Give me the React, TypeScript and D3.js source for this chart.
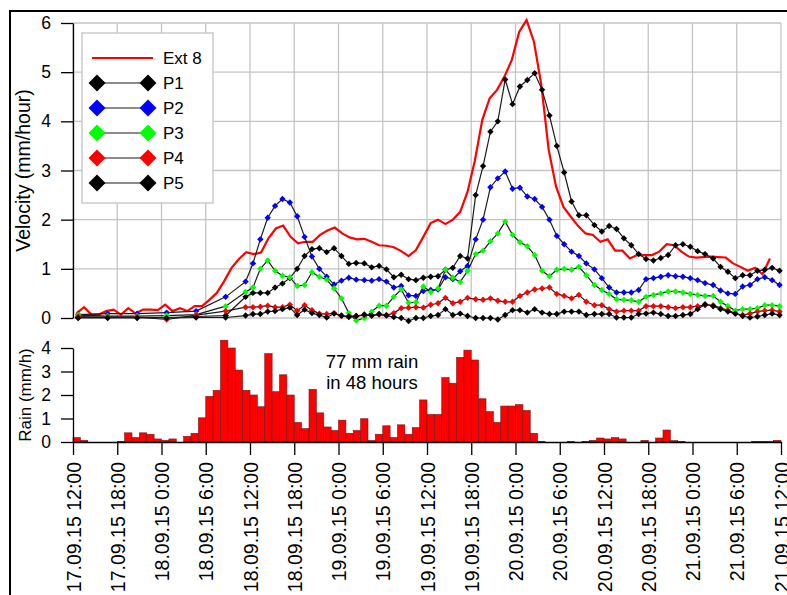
import React, { useRef, useEffect } from 'react';
import * as d3 from 'd3';

// hourly rain (mm/h), first bar starts 17.09.15 12:00
const rain = [
  0.19, 0.07, 0, 0, 0, 0, 0.03, 0.39, 0.19, 0.39,
  0.33, 0.13, 0.07, 0.13, 0, 0.24, 0.37, 1.03, 1.94, 2.2,
  4.33, 4.0, 3.06, 2.2, 2.0, 1.5, 3.76, 2.14, 2.86, 2.0,
  0.83, 0.57, 2.24, 1.24, 0.64, 0.49, 0.93, 0.37, 0.49, 0.99,
  0.07, 0.33, 0.69, 0.19, 0.73, 0.33, 0.61, 1.79, 1.17, 1.17,
  2.74, 2.5, 3.6, 3.91, 3.49, 1.84, 1.29, 0.83, 1.53, 1.53,
  1.59, 1.34, 0.37, 0.03, 0, 0, 0, 0.03, 0, 0.03,
  0.07, 0.17, 0.13, 0.19, 0.13, 0, 0, 0.07, 0, 0.17,
  0.51, 0.06, 0.03, 0, 0, 0, 0, 0, 0, 0,
  0, 0, 0.03, 0.03, 0.03, 0.07,
];

// extensometer Ext 8, logged every hour at half past
const ext8 = [
  0.1, 0.22, 0.07, 0.07, 0.14, 0.17, 0.07, 0.2, 0.09, 0.17,
  0.17, 0.16, 0.27, 0.14, 0.2, 0.14, 0.24, 0.24, 0.37, 0.51,
  0.75, 1.02, 1.2, 1.34, 1.3, 1.33, 1.62, 1.82, 1.88, 1.65,
  1.52, 1.55, 1.55, 1.69, 1.78, 1.84, 1.72, 1.64, 1.6, 1.61,
  1.55, 1.48, 1.47, 1.44, 1.36, 1.26, 1.38, 1.65, 1.93, 2.0,
  1.91, 2.0, 2.16, 2.57, 3.21, 4.03, 4.47, 4.64, 4.91, 5.25,
  5.82, 6.06, 5.62, 4.74, 3.42, 2.67, 2.26, 2.06, 1.87, 1.72,
  1.69, 1.55, 1.6, 1.37, 1.37, 1.21, 1.28, 1.28, 1.28, 1.35,
  1.5, 1.48, 1.35, 1.25, 1.23, 1.24, 1.25, 1.24, 1.23, 1.11,
  1.04, 0.96, 1.02, 0.89, 1.21,
];
const ext8Hours = d3.range(ext8.length).map(k => k + 0.5);

// probe readings, hours after 17.09.15 12:00
const probeHours = [
  0.7, 4.7, 8.7, 12.7, 16.7, 20.7,
  23.4, 24.4, 25.4, 26.4, 27.4, 28.4, 29.4, 30.4, 31.4, 32.4, 33.4, 34.4, 35.4, 36.4, 37.4, 38.4,
  39.5, 40.5, 41.5, 42.5, 43.5, 44.5, 45.5, 46.5, 47.5, 48.5, 49.5, 50.5, 51.5, 52.5, 53.5,
  54.6, 55.6, 56.6, 57.6, 58.6, 59.6, 60.6, 61.6, 62.6, 63.6, 64.6, 65.6, 66.6, 67.6, 68.6, 69.6,
  70.7, 71.7, 72.7, 73.7, 74.7, 75.7, 76.7, 77.7, 78.7, 79.7, 80.7, 81.7, 82.7, 83.7, 84.7, 85.7,
  86.8, 87.8, 88.8, 89.8, 90.8, 91.8, 92.8, 93.8, 94.8, 95.8,
];

const p1 = [
  0.01, 0.01, 0.01, 0.01, 0.03, 0.05,
  0.43, 0.51, 0.51, 0.51, 0.62, 0.7, 0.81, 1.0, 1.26, 1.4, 1.42, 1.34, 1.42, 1.26, 1.1, 1.12, 1.11, 1.03, 1.06, 0.99, 0.83, 0.88,
  0.79, 0.77, 0.82, 0.84, 0.85, 0.98, 1.02, 1.26, 1.21, 2.5, 3.09, 3.79, 4.0, 4.85, 4.35, 4.71, 4.84, 4.98, 4.64, 4.12, 3.5, 2.96,
  2.37, 2.09, 2.09, 1.89, 1.76, 1.87, 1.81, 1.62, 1.48, 1.3, 1.2, 1.17, 1.22, 1.28, 1.48, 1.5, 1.45, 1.36, 1.3, 1.21, 1.04, 0.94, 0.81, 0.87, 0.87, 0.96, 0.98, 1.02, 0.96,
];
const p2 = [
  0.07, 0.09, 0.09, 0.11, 0.14, 0.43,
  0.74, 1.11, 1.6, 2.04, 2.28, 2.42, 2.35, 2.07, 1.65, 1.25, 1.0, 0.84, 0.68, 0.76, 0.82, 0.78, 0.77, 0.76, 0.79, 0.74, 0.62, 0.65,
  0.46, 0.45, 0.55, 0.57, 0.58, 0.83, 0.79, 0.95, 1.06, 1.6, 2.0, 2.66, 2.84, 2.98, 2.63, 2.65, 2.47, 2.42, 2.26, 2.0, 1.67, 1.5,
  1.35, 1.26, 1.11, 0.99, 0.81, 0.62, 0.52, 0.52, 0.52, 0.57, 0.79, 0.81, 0.84, 0.87, 0.85, 0.84, 0.81, 0.77, 0.71, 0.67, 0.56, 0.5, 0.49, 0.64, 0.67, 0.79, 0.83, 0.77, 0.67,
];
const p3 = [
  0.06, 0.04, 0.04, 0.05, 0.07, 0.24,
  0.53, 0.62, 1.0, 1.17, 0.96, 0.86, 0.83, 0.65, 0.67, 0.93, 0.84, 0.78, 0.6, 0.4, 0.1, -0.05, 0.0, 0.13, 0.25, 0.25, 0.43, 0.58,
  0.31, 0.32, 0.64, 0.53, 0.6, 0.98, 0.82, 0.73, 0.96, 1.3, 1.37, 1.56, 1.72, 1.96, 1.69, 1.54, 1.46, 1.28, 0.96, 0.85, 0.98, 1.0,
  0.98, 1.04, 0.87, 0.67, 0.57, 0.49, 0.38, 0.37, 0.36, 0.33, 0.43, 0.47, 0.5, 0.54, 0.54, 0.52, 0.49, 0.47, 0.45, 0.45, 0.33, 0.24, 0.15, 0.18, 0.18, 0.2, 0.26, 0.26, 0.24,
];
const p4 = [
  0.03, 0.02, 0.02, -0.03, 0.06, 0.14,
  0.22, 0.22, 0.23, 0.25, 0.22, 0.22, 0.27, 0.15, 0.26, 0.16, 0.09, 0.08, 0.1, 0.04, 0.04, 0.04, 0.06, 0.05, 0.07, 0.06, 0.1, 0.2,
  0.21, 0.22, 0.21, 0.27, 0.3, 0.41, 0.3, 0.33, 0.41, 0.38, 0.37, 0.4, 0.35, 0.33, 0.33, 0.45, 0.52, 0.58, 0.6, 0.62, 0.49, 0.45,
  0.4, 0.47, 0.33, 0.26, 0.26, 0.18, 0.13, 0.15, 0.15, 0.15, 0.24, 0.24, 0.24, 0.22, 0.2, 0.22, 0.22, 0.24, 0.26, 0.26, 0.2, 0.16, 0.09, 0.06, 0.09, 0.13, 0.15, 0.16, 0.13,
];
const p5 = [
  0, 0, 0, 0, 0.01, 0.01,
  0.05, 0.08, 0.08, 0.13, 0.14, 0.18, 0.21, 0.06, 0.17, 0.1, 0.06, 0.01, 0.09, 0.05, 0.02, 0.04, 0.07, 0.05, 0.08, 0.05, 0.02, 0.0,
  -0.06, 0.0, 0.0, 0.04, 0.06, 0.18, 0.06, 0.09, 0.04, 0.0, 0.0, 0.0, -0.03, 0.06, 0.16, 0.16, 0.11, 0.18, 0.11, 0.08, 0.08, 0.13,
  0.13, 0.13, 0.06, 0.08, 0.08, 0.08, 0.01, 0.01, 0.01, 0.08, 0.09, 0.11, 0.08, 0.04, 0.04, 0.06, 0.08, 0.18, 0.28, 0.24, 0.18, 0.13, 0.09, 0.04, 0.01, 0.03, 0.06, 0.09, 0.06,
];

const probeNames = ['P1', 'P2', 'P3', 'P4', 'P5'];
const probeColors = ['#000000', '#0000ff', '#00ff00', '#ff0000', '#000000'];
const probeValues = [p1, p2, p3, p4, p5];

const velocityTicks = [0, 1, 2, 3, 4, 5, 6];
const rainTicks = [0, 1, 2, 3, 4];
const annotation = ['77 mm rain', 'in 48 hours'];

const t0 = new Date(2015, 8, 17, 12);
const at = (h: number) => new Date(t0.getTime() + h * 3600000);

function App() {
  const svgRef = useRef<SVGSVGElement>(null);

  useEffect(() => {
    const svg = d3.select(svgRef.current);
    svg.selectAll('*').remove();
    svg.attr('font-family', 'Arial, "Liberation Sans", sans-serif');

    const x = d3.scaleTime().domain([t0, at(96)]).range([73, 781]);
    const yV = d3.scaleLinear().domain([0, 6]).range([318, 23]);
    const yR = d3.scaleLinear().domain([0, 4]).range([442, 348]);
    const ticks = x.ticks(d3.timeHour.every(6));
    const fmt = d3.timeFormat('%d.%m.%y %-H:%M');
    const intFmt = d3.format('d');

    // outer frame
    svg.append('rect')
      .attr('x', 10).attr('y', 11).attr('width', 800).attr('height', 620)
      .attr('fill', 'none').attr('stroke', '#000').attr('stroke-width', 2);

    // grid
    const grid = svg.append('g').attr('stroke', '#c4c4c4').attr('stroke-width', 1.3);
    grid.selectAll('line.gv').data(ticks).join('line').attr('class', 'gv')
      .attr('x1', d => x(d)).attr('x2', d => x(d)).attr('y1', yV(0)).attr('y2', yV(6));
    grid.selectAll('line.gh').data(velocityTicks).join('line').attr('class', 'gh')
      .attr('x1', 73).attr('x2', x(at(96))).attr('y1', d => yV(d)).attr('y2', d => yV(d));

    // velocity axis
    const ay = svg.append('g').attr('transform', 'translate(73,0)')
      .call(d3.axisLeft(yV).tickValues(velocityTicks).tickFormat(d => intFmt(d as number))
        .tickSize(12).tickSizeOuter(0).tickPadding(10));
    ay.selectAll('text').attr('font-size', 17.5).attr('font-family', null).attr('fill', '#000');
    ay.selectAll('line,path').attr('stroke', '#000').attr('stroke-width', 1.3);

    // Ext 8
    const line = d3.line<[number, number]>()
      .x(d => x(at(d[0])))
      .y(d => yV(d[1]));
    svg.append('path')
      .attr('d', line(ext8.map((v, i) => [ext8Hours[i], v] as [number, number])))
      .attr('fill', 'none').attr('stroke', '#ff0000').attr('stroke-width', 2.2);

    // probes
    const diamond = (r: number) => d3.symbol(d3.symbolDiamond2, Math.pow(r / 0.62625, 2))();
    probeValues.forEach((vals, k) => {
      const pts = vals.map((v, i) => [probeHours[i], v] as [number, number]);
      const g = svg.append('g');
      g.append('path').attr('d', line(pts))
        .attr('fill', 'none').attr('stroke', '#1a1a1a').attr('stroke-width', 1.2);
      g.selectAll('path.m').data(pts).join('path').attr('class', 'm')
        .attr('d', diamond(3.2))
        .attr('transform', d => `translate(${x(at(d[0]))},${yV(d[1])})`)
        .attr('fill', probeColors[k]);
    });

    // legend
    const lg = svg.append('g');
    lg.append('rect').attr('x', 82).attr('y', 33).attr('width', 131).attr('height', 170)
      .attr('fill', '#fff').attr('stroke', '#c4c4c4').attr('stroke-width', 1.3);
    const rows = ['Ext 8', ...probeNames];
    rows.forEach((name, i) => {
      const y = 58 + i * 25;
      if (i === 0) {
        lg.append('line').attr('x1', 92).attr('x2', 153).attr('y1', y).attr('y2', y)
          .attr('stroke', '#ff0000').attr('stroke-width', 2.2);
      } else {
        lg.append('line').attr('x1', 97).attr('x2', 148).attr('y1', y).attr('y2', y)
          .attr('stroke', '#1a1a1a').attr('stroke-width', 1.2);
        [97, 148].forEach(cx => {
          lg.append('path').attr('d', diamond(8.5))
            .attr('transform', `translate(${cx},${y})`).attr('fill', probeColors[i - 1]);
        });
      }
      lg.append('text').attr('x', 163).attr('y', y).attr('dy', '0.36em')
        .attr('font-size', 17).text(name);
    });

    svg.append('text')
      .attr('transform', 'translate(30,170.5) rotate(-90)')
      .attr('text-anchor', 'middle').attr('font-size', 19.5).text('Velocity (mm/hour)');

    // rain bars
    svg.append('g').selectAll('rect').data(rain.map((v, h) => ({ v, h })).filter(d => d.v > 0)).join('rect')
      .attr('x', d => x(at(d.h)))
      .attr('width', d => x(at(d.h + 1)) - x(at(d.h)))
      .attr('y', d => yR(d.v))
      .attr('height', d => yR(0) - yR(d.v))
      .attr('fill', '#ff0000').attr('stroke', '#6e1a1a').attr('stroke-width', 0.6);

    const ar = svg.append('g').attr('transform', 'translate(73,0)')
      .call(d3.axisLeft(yR).tickValues(rainTicks).tickFormat(d => intFmt(d as number))
        .tickSize(12).tickSizeOuter(0).tickPadding(10));
    ar.selectAll('text').attr('font-size', 17.5).attr('font-family', null).attr('fill', '#000');
    ar.selectAll('line,path').attr('stroke', '#000').attr('stroke-width', 1.3);

    const ax = svg.append('g').attr('transform', `translate(0,${yR(0)})`)
      .call(d3.axisBottom(x).tickValues(ticks).tickFormat(d => fmt(d as Date)).tickSize(13).tickSizeOuter(0));
    ax.selectAll('line,path').attr('stroke', '#000').attr('stroke-width', 1.3);
    ax.selectAll('text')
      .attr('font-size', 19.5).attr('font-family', null).attr('fill', '#000')
      .attr('transform', 'rotate(-90)')
      .attr('text-anchor', 'end')
      .attr('x', -20).attr('y', 0).attr('dy', '0.36em');

    svg.append('text')
      .attr('transform', 'translate(31,395) rotate(-90)')
      .attr('text-anchor', 'middle').attr('font-size', 17).text('Rain (mm/h)');

    svg.append('g').selectAll('text').data(annotation).join('text')
      .attr('x', 372).attr('y', (d, i) => 368 + i * 21)
      .attr('text-anchor', 'middle').attr('font-size', 18.5)
      .text(d => d);
  }, []);

  return (
    <svg
      ref={svgRef}
      width={787}
      height={595}
      style={{ position: 'absolute', left: 0, top: 0, background: '#fff' }}
    />
  );
}

export default App;
